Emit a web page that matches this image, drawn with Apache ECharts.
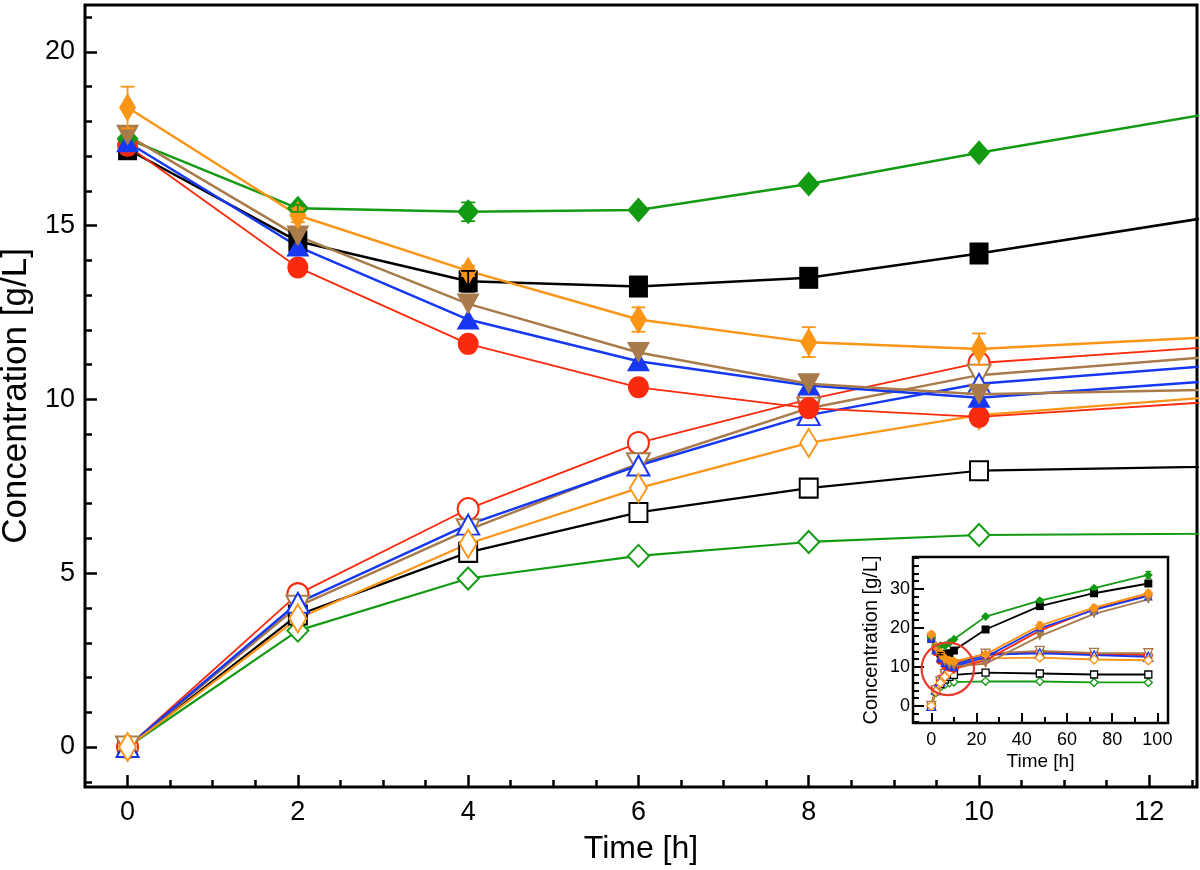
<!DOCTYPE html>
<html>
<head>
<meta charset="utf-8">
<script src="https://cdn.jsdelivr.net/npm/echarts@6/dist/echarts.min.js"></script>
<style>
html,body{margin:0;padding:0;background:#fff;}
#c{width:1200px;height:870px;}
</style>
</head>
<body>
<div id="c"></div>
<script>
// ---- data ----
const times = [0, 2, 4, 6, 8, 10, 24, 48, 72, 96];

// filled symbols (consumed substrate)
const blackFilled  = [17.2, 14.55, 13.4, 13.25, 13.5, 14.2, 19.6, 25.6, 28.9, 31.4];
const greenFilled  = [17.5, 15.5, 15.4, 15.45, 16.2, 17.1, 22.9, 27.0, 30.2, 33.6];
const orangeFilled = [18.4, 15.3, 13.7, 12.3, 11.65, 11.45, 13.2, 20.6, 25.2, 28.9];
const blueFilled   = [17.4, 14.4, 12.3, 11.1, 10.4, 10.05, 12.5, 19.9, 24.6, 28.2];
const redFilled    = [17.3, 13.8, 11.6, 10.35, 9.75, 9.5, 11.7, 19.3, 24.8, 28.4];
const brownFilled  = [17.6, 14.7, 12.75, 11.35, 10.45, 10.15, 10.8, 17.9, 23.6, 27.3];

// open symbols (product)
const blackOpen  = [0, 3.8, 5.6, 6.75, 7.45, 7.95, 8.55, 8.3, 8.05, 8.05];
const greenOpen  = [0, 3.35, 4.85, 5.5, 5.9, 6.1, 6.3, 6.25, 6.0, 6.0];
const orangeOpen = [0, 3.7, 5.85, 7.45, 8.75, 9.55, 12.2, 12.4, 11.9, 11.7];
const blueOpen   = [0, 4.15, 6.4, 8.1, 9.55, 10.45, 13.1, 13.5, 13.0, 12.6];
const redOpen    = [0, 4.4, 6.85, 8.75, 10.0, 11.05, 13.4, 13.9, 13.3, 13.0];
const brownOpen  = [0, 4.05, 6.25, 8.15, 9.75, 10.7, 13.4, 14.1, 13.6, 13.5];

// error bars (half-widths)
const orangeErr = [0.6, 0.2, 0.15, 0.35, 0.43, 0.45, 0.5, 0.9, 0.7, 0.8];
const greenErr  = [0, 0.1, 0.27, 0, 0.1, 0.1, 0.3, 0.5, 0.4, 0.9];
const blackErr  = [0, 0, 0.3, 0, 0, 0, 0.3, 0.5, 0.5, 0.7];

// ticks
const mainXTicks = [0, 2, 4, 6, 8, 10, 12];
const mainYTicks = [0, 5, 10, 15, 20];
const insetXTicks = [0, 20, 40, 60, 80, 100];
const insetYTicks = [0, 10, 20, 30];

// ---- styling ----
const C = {
  black: '#000000', green: '#139a13', orange: '#fa9518',
  blue: '#1638f2', red: '#fa2a0c', brown: '#a97b4b'
};

function range(a, b, s) { const r = []; for (let v = a; v <= b + 1e-9; v += s) r.push(+v.toFixed(4)); return r; }

const mainXMinor = range(0, 12.5, 0.5).filter(v => v % 2 !== 0);
const mainYMinor = range(-1, 21, 1).filter(v => v % 5 !== 0);
const insetXMinor = range(10, 100, 20);
const insetYMinor = range(-4, 38, 2).filter(v => v % 10 !== 0);

const FONT = '"Liberation Sans", Arial, Helvetica, sans-serif';

// drawing order: later entries are painted on top
const seriesDefs = [
  { vals: greenOpen,    color: C.green,  sym: 'diamond', size: [21, 22], inset: 8, open: true,  lw: 2.2 },
  { vals: blackOpen,    color: C.black,  sym: 'rect',    size: [18, 19], inset: 7, open: true,  lw: 2.2 },
  { vals: redOpen,      color: C.red,    sym: 'circle',  size: [21, 22], inset: 8, open: true,  lw: 1.8 },
  { vals: brownOpen,    color: C.brown,  sym: 'triangle',size: [23, 21], inset: 9, open: true,  lw: 2.5, rot: 180 },
  { vals: blueOpen,     color: C.blue,   sym: 'triangle',size: [22, 20], inset: 9, open: true,  lw: 2.5 },
  { vals: orangeOpen,   color: C.orange, sym: 'diamond', size: [17, 28], inset: 9, open: true,  lw: 2.2 },
  { vals: blackFilled,  color: C.black,  sym: 'rect',    size: [19, 22], inset: 8, open: false, lw: 2.5 },
  { vals: redFilled,    color: C.red,    sym: 'circle',  size: [21, 22], inset: 8, open: false, lw: 1.8 },
  { vals: greenFilled,  color: C.green,  sym: 'diamond', size: [22, 25], inset: 9, open: false, lw: 2.5 },
  { vals: blueFilled,   color: C.blue,   sym: 'triangle',size: [23, 20], inset: 9, open: false, lw: 2.5 },
  { vals: brownFilled,  color: C.brown,  sym: 'triangle',size: [23, 21], inset: 9, open: false, lw: 2.5, rot: 180 },
  { vals: orangeFilled, color: C.orange, sym: 'diamond', size: [17, 29], inset: 10, open: false, lw: 2.5 }
];

function lineSeries(d, xi, yi, isInset) {
  return {
    type: 'line',
    xAxisIndex: xi, yAxisIndex: yi,
    data: times.map((t, i) => [t, d.vals[i]]),
    symbol: d.sym,
    symbolSize: isInset ? d.inset : d.size,
    symbolRotate: d.rot || 0,
    showSymbol: true,
    clip: true,
    silent: true,
    lineStyle: { color: d.color, width: isInset ? 1.8 : d.lw },
    itemStyle: {
      color: d.open ? '#ffffff' : d.color,
      borderColor: d.color,
      borderWidth: d.open ? (isInset ? 1.3 : 2) : 0
    },
    z: isInset ? (d.open ? 13 : 14) : (d.open ? 3 : 4)
  };
}

function errSeries(vals, errs, color, xi, yi, cap, lw, z) {
  return {
    type: 'custom',
    xAxisIndex: xi, yAxisIndex: yi,
    clip: true,
    silent: true,
    z: z,
    data: times.map((t, i) => [t, vals[i], errs[i]]).filter(p => p[2] > 0),
    renderItem: function (params, api) {
      const x = api.value(0), y = api.value(1), e = api.value(2);
      const top = api.coord([x, y + e]);
      const bot = api.coord([x, y - e]);
      const hw = cap / 2;
      const st = { stroke: color, lineWidth: lw, fill: null };
      return {
        type: 'group',
        children: [
          { type: 'line', shape: { x1: top[0], y1: top[1], x2: bot[0], y2: bot[1] }, style: st },
          { type: 'line', shape: { x1: top[0] - hw, y1: top[1], x2: top[0] + hw, y2: top[1] }, style: st },
          { type: 'line', shape: { x1: bot[0] - hw, y1: bot[1], x2: bot[0] + hw, y2: bot[1] }, style: st }
        ]
      };
    }
  };
}

const series = [];
seriesDefs.forEach(d => series.push(lineSeries(d, 0, 0, false)));
series.push(errSeries(orangeFilled, orangeErr, C.orange, 0, 0, 14, 1.8, 5));
series.push(errSeries(greenFilled, greenErr, C.green, 0, 0, 14, 1.8, 5));
series.push(errSeries(blackFilled, blackErr, C.black, 0, 0, 14, 1.8, 5));
seriesDefs.forEach(d => series.push(lineSeries(d, 2, 2, true)));
series.push(errSeries(orangeFilled, orangeErr, C.orange, 2, 2, 6, 1.2, 15));
series.push(errSeries(greenFilled, greenErr, C.green, 2, 2, 6, 1.2, 15));
series.push(errSeries(blackFilled, blackErr, C.black, 2, 2, 6, 1.2, 15));

const tickStyleMain = { color: '#000', width: 2.5 };
const tickStyleInset = { color: '#000', width: 2 };
const noLine = { show: false, onZero: false };

const option = {
  animation: false,
  backgroundColor: '#ffffff',
  grid: [
    { left: 85, top: 5, width: 1112, height: 782, show: true, borderColor: '#000', borderWidth: 3, backgroundColor: 'transparent', containLabel: false, outerBoundsMode: 'none' },
    { left: 913, top: 557, width: 255, height: 166, show: true, borderColor: '#000', borderWidth: 2.5, backgroundColor: '#ffffff', containLabel: false, outerBoundsMode: 'none', z: 10 }
  ],
  xAxis: [
    {
      type: 'value', gridIndex: 0, min: -0.5, max: 12.56, position: 'bottom',
      axisLine: noLine, splitLine: { show: false },
      axisTick: { show: true, inside: true, length: 12, lineStyle: tickStyleMain, customValues: mainXTicks },
      axisLabel: { show: true, fontSize: 27, color: '#000', fontFamily: FONT, margin: 12, customValues: mainXTicks },
      name: 'Time [h]', nameLocation: 'middle', nameGap: 46,
      nameTextStyle: { fontSize: 32, color: '#000', fontFamily: FONT }
    },
    {
      type: 'value', gridIndex: 0, min: -0.5, max: 12.56, position: 'bottom',
      axisLine: noLine, splitLine: { show: false },
      axisTick: { show: true, inside: true, length: 7, lineStyle: tickStyleMain, customValues: mainXMinor },
      axisLabel: { show: false }
    },
    {
      type: 'value', gridIndex: 1, min: -8.1, max: 104.7, position: 'bottom',
      axisLine: noLine, splitLine: { show: false },
      axisTick: { show: true, inside: true, length: 10, lineStyle: tickStyleInset, customValues: insetXTicks },
      axisLabel: { show: true, fontSize: 18, color: '#000', fontFamily: FONT, margin: 8, customValues: insetXTicks },
      name: 'Time [h]', nameLocation: 'middle', nameGap: 29,
      nameTextStyle: { fontSize: 19, color: '#000', fontFamily: FONT },
      z: 11
    },
    {
      type: 'value', gridIndex: 1, min: -8.1, max: 104.7, position: 'bottom',
      axisLine: noLine, splitLine: { show: false },
      axisTick: { show: true, inside: true, length: 6, lineStyle: tickStyleInset, customValues: insetXMinor },
      axisLabel: { show: false },
      z: 11
    }
  ],
  yAxis: [
    {
      type: 'value', gridIndex: 0, min: -1.15, max: 21.35, position: 'left',
      axisLine: noLine, splitLine: { show: false },
      axisTick: { show: true, inside: true, length: 12, lineStyle: tickStyleMain, customValues: mainYTicks },
      axisLabel: { show: true, fontSize: 27, color: '#000', fontFamily: FONT, margin: 10, customValues: mainYTicks },
      name: 'Concentration [g/L]', nameLocation: 'middle', nameGap: 48,
      nameTextStyle: { fontSize: 35, color: '#000', fontFamily: FONT }
    },
    {
      type: 'value', gridIndex: 0, min: -1.15, max: 21.35, position: 'left',
      axisLine: noLine, splitLine: { show: false },
      axisTick: { show: true, inside: true, length: 7, lineStyle: tickStyleMain, customValues: mainYMinor },
      axisLabel: { show: false }
    },
    {
      type: 'value', gridIndex: 1, min: -4.4, max: 38.2, position: 'left',
      axisLine: noLine, splitLine: { show: false },
      axisTick: { show: true, inside: true, length: 11, lineStyle: tickStyleInset, customValues: insetYTicks },
      axisLabel: { show: true, fontSize: 18, color: '#000', fontFamily: FONT, margin: 3, customValues: insetYTicks },
      name: 'Concentration [g/L]', nameLocation: 'middle', nameGap: 32,
      nameTextStyle: { fontSize: 20, color: '#000', fontFamily: FONT },
      z: 11
    },
    {
      type: 'value', gridIndex: 1, min: -4.4, max: 38.2, position: 'left',
      axisLine: noLine, splitLine: { show: false },
      axisTick: { show: true, inside: true, length: 6, lineStyle: tickStyleInset, customValues: insetYMinor },
      axisLabel: { show: false },
      z: 11
    }
  ],
  series: series
};

const chart = echarts.init(document.getElementById('c'), null, { renderer: 'canvas' });
chart.setOption(option);

// red highlight circle in the inset around the early-time region
const circleCenter = [7.3, 9.5];
const circleRadiusH = 11.6;
const cp = chart.convertToPixel({ xAxisIndex: 2, yAxisIndex: 2 }, circleCenter);
const ep = chart.convertToPixel({ xAxisIndex: 2, yAxisIndex: 2 }, [circleCenter[0] + circleRadiusH, circleCenter[1]]);
const r = Math.abs(ep[0] - cp[0]);
chart.setOption({
  graphic: [{
    type: 'circle', shape: { cx: cp[0], cy: cp[1], r: r },
    style: { fill: null, stroke: '#e83a2e', lineWidth: 2.2 }, z: 100, silent: true
  }]
});
</script>
</body>
</html>
